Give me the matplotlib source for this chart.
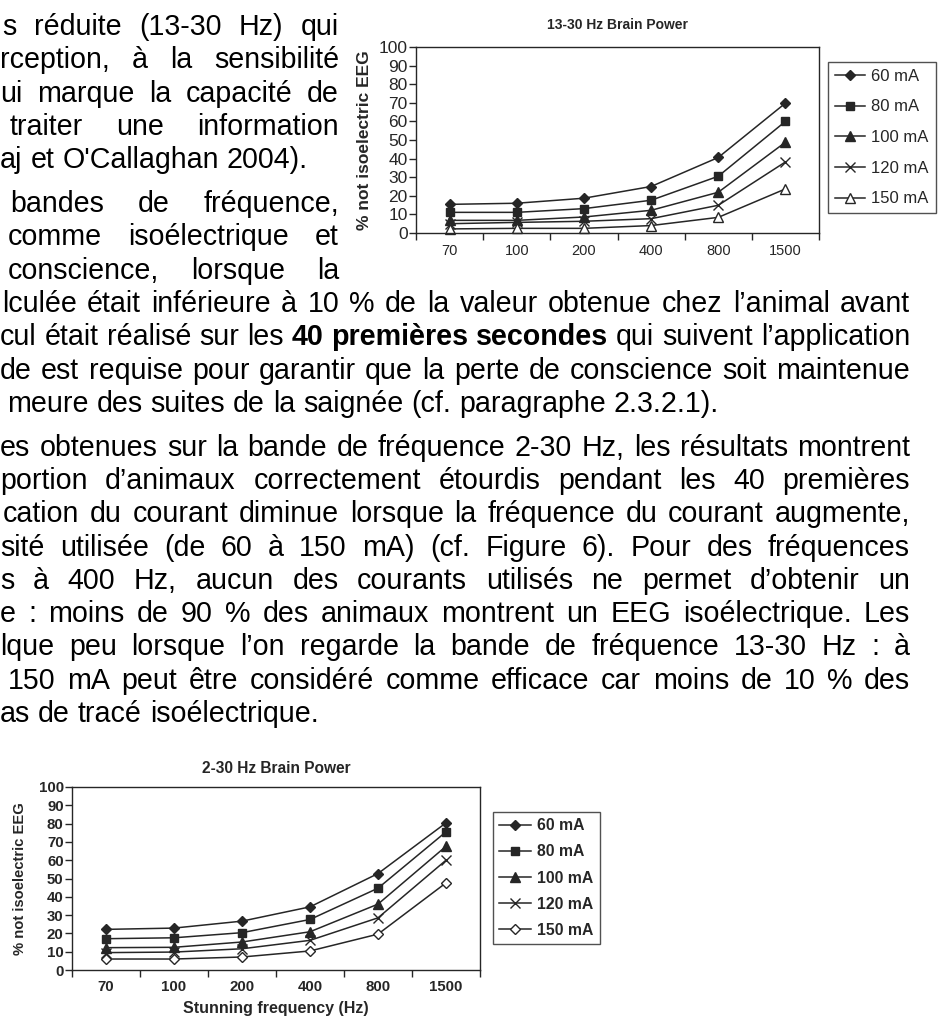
import matplotlib
matplotlib.use("Agg")
import matplotlib.pyplot as plt

# categories and series
freqs = ["70", "100", "200", "400", "800", "1500"]
currents = ["60 mA", "80 mA", "100 mA", "120 mA", "150 mA"]

# 13-30 Hz band, % of animals without isoelectric EEG
beta_60 = [15.4, 16.0, 18.7, 25.0, 40.6, 69.8]
beta_80 = [11.1, 11.1, 13.1, 17.6, 30.5, 60.0]
beta_100 = [6.8, 6.8, 8.6, 12.2, 21.9, 48.8]
beta_120 = [5.0, 5.7, 6.3, 7.7, 14.9, 38.2]
beta_150 = [2.2, 2.5, 2.5, 4.0, 8.4, 23.7]

# 2-30 Hz band
full_60 = [22.2, 22.9, 26.7, 34.5, 52.7, 80.4]
full_80 = [17.1, 17.6, 20.4, 27.6, 44.7, 75.5]
full_100 = [12.2, 12.4, 15.3, 20.9, 36.0, 67.6]
full_120 = [9.5, 9.8, 11.6, 16.2, 28.5, 60.0]
full_150 = [6.0, 6.0, 7.1, 10.4, 19.6, 47.6]

# body text, one entry per printed line: (paragraph, left, right, words)
# right=None means the last line of a paragraph (not justified)
# words starting with * are bold
body_lines = [
    (0, 2, 339, "s réduite (13-30 Hz) qui"),
    (0, 0, 339, "rception, à la sensibilité"),
    (0, 0, 339, "ui marque la capacité de"),
    (0, 10, 339, "traiter une information"),
    (0, 0, None, "aj et O'Callaghan 2004)."),
    (1, 10, 339, "bandes de fréquence,"),
    (1, 8, 339, "comme isoélectrique et"),
    (1, 8, 339, "conscience, lorsque la"),
    (1, 2, 910, "lculée était inférieure à 10 % de la valeur obtenue chez l’animal avant"),
    (1, 0, 910, "cul était réalisé sur les *40 *premières *secondes qui suivent l’application"),
    (1, 0, 910, "de est requise pour garantir que la perte de conscience soit maintenue"),
    (1, 7, None, "meure des suites de la saignée (cf. paragraphe 2.3.2.1)."),
    (2, 0, 910, "es obtenues sur la bande de fréquence 2-30 Hz, les résultats montrent"),
    (2, 0, 910, "portion d’animaux correctement étourdis pendant les 40 premières"),
    (2, 3, 910, "cation du courant diminue lorsque la fréquence du courant augmente,"),
    (2, 0, 910, "sité utilisée (de 60 à 150 mA) (cf. Figure 6). Pour des fréquences"),
    (2, 0, 910, "s à 400 Hz, aucun des courants utilisés ne permet d’obtenir un"),
    (2, 0, 910, "e : moins de 90 % des animaux montrent un EEG isoélectrique. Les"),
    (2, 0, 910, "lque peu lorsque l’on regarde la bande de fréquence 13-30 Hz : à"),
    (2, 8, 910, "150 mA peut être considéré comme efficace car moins de 10 % des"),
    (2, 0, None, "as de tracé isoélectrique."),
]

W, H = 938, 1018
FONT = ["Liberation Sans", "DejaVu Sans"]
BODY_FS = 20.6
LINE_STEP = 33.3
PARA_GAP = 10.5
FIRST_LINE = 26
INK = "#262626"

fig = plt.figure(figsize=(W / 100, H / 100), dpi=100)
renderer = fig.canvas.get_renderer()


def fx(px):
    return px / W


def fy(py):
    return 1 - py / H


def put_line(y, left, right, line):
    arts, widths = [], []
    for word in line.split(" "):
        weight = "normal"
        if word.startswith("*"):
            word, weight = word[1:], "bold"
        t = fig.text(0, fy(y), word, fontsize=BODY_FS, fontweight=weight,
                     family=FONT, ha="left", va="baseline", color="black")
        arts.append(t)
        widths.append(t.get_window_extent(renderer).width)
    if right is None or len(arts) < 2:
        gap = 0.278 * BODY_FS * 100 / 72
    else:
        gap = (right - left - sum(widths)) / (len(arts) - 1)
    x = left
    for t, w in zip(arts, widths):
        t.set_x(fx(x))
        x += w + gap


for i, (para, left, right, line) in enumerate(body_lines):
    centre = FIRST_LINE + i * LINE_STEP + para * PARA_GAP
    put_line(centre + 9, left, right, line)


def brain_power_chart(rect, series, styles, fs):
    ax = fig.add_axes(rect)
    pos = range(len(freqs))
    for vals, label, (mk, face, ms) in zip(series, currents, styles):
        ax.plot(pos, vals, color=INK, lw=1.1, marker=mk, ms=ms,
                mfc=face, mec=INK, mew=1.0, label=label, clip_on=False)
    ax.set_xlim(-0.5, len(freqs) - 0.5)
    ax.set_ylim(0, 100)
    ax.set_yticks(range(0, 101, 10))
    ax.set_yticklabels([str(v) for v in range(0, 101, 10)], family=FONT,
                       fontsize=fs["ytick"], fontweight=fs["weight"], color=INK)
    # category boundaries carry the tick marks, centres carry the labels
    ax.set_xticks([i - 0.5 for i in range(len(freqs) + 1)])
    ax.set_xticklabels([])
    ax.set_xticks(list(pos), minor=True)
    ax.set_xticklabels(freqs, minor=True, family=FONT, fontsize=fs["xtick"],
                       fontweight=fs["weight"], color=INK)
    ax.tick_params(axis="x", which="major", length=5, width=1, color=INK, direction="out")
    ax.tick_params(axis="x", which="minor", length=0, pad=fs["xpad"])
    ax.tick_params(axis="y", length=5, width=1, color=INK, pad=1)
    for s in ax.spines.values():
        s.set_color(INK)
        s.set_linewidth(1.0)
    ax.set_ylabel("% not isoelectric EEG", family=FONT, fontweight="bold",
                  fontsize=fs["ylabel"], color=INK, labelpad=fs["ylpad"])
    return ax


def mA_legend(ax, left, top, fsize, weight, spacing, hlen):
    leg = ax.legend(loc="upper left", bbox_to_anchor=(fx(left), fy(top)),
                    bbox_transform=fig.transFigure, frameon=True, fancybox=False,
                    edgecolor=INK, handlelength=hlen, handletextpad=0.4,
                    labelspacing=spacing, borderpad=0.4, borderaxespad=0,
                    prop=dict(family=FONT, size=fsize, weight=weight))
    leg.get_frame().set_linewidth(1.0)
    for txt in leg.get_texts():
        txt.set_color(INK)
    return leg


# 13-30 Hz chart (top right)
top_styles = [("D", INK, 5.5), ("s", INK, 6), ("^", INK, 6.5), ("x", INK, 6.5), ("^", "white", 6.5)]
top_fs = dict(ytick=12.5, xtick=10.5, weight="normal", ylabel=12.5, ylpad=5, xpad=8)
ax1 = brain_power_chart([fx(416), fy(233), fx(819) - fx(416), fy(47) - fy(233)],
                        [beta_60, beta_80, beta_100, beta_120, beta_150],
                        top_styles, top_fs)
ax1.set_title("13-30 Hz Brain Power", family=FONT, fontweight="bold", fontsize=10,
              color=INK, pad=13)
mA_legend(ax1, 828, 62, 12, "normal", 0.94, 1.8)

# 2-30 Hz chart (bottom left)
bot_styles = [("D", INK, 5.5), ("s", INK, 6), ("^", INK, 6.5), ("x", INK, 6.5), ("D", "white", 5.5)]
bot_fs = dict(ytick=10.8, xtick=10.8, weight="bold", ylabel=10.6, ylpad=8, xpad=7)
ax2 = brain_power_chart([fx(72), fy(970), fx(480) - fx(72), fy(787) - fy(970)],
                        [full_60, full_80, full_100, full_120, full_150],
                        bot_styles, bot_fs)
ax2.set_title("2-30 Hz Brain Power", family=FONT, fontweight="bold", fontsize=11.2,
              color=INK, pad=10)
ax2.set_xlabel("Stunning frequency (Hz)", family=FONT, fontweight="bold",
               fontsize=11.5, color=INK, labelpad=5)
mA_legend(ax2, 493, 812, 11.3, "bold", 0.71, 2.0)

fig.savefig("out.png", dpi=100)
